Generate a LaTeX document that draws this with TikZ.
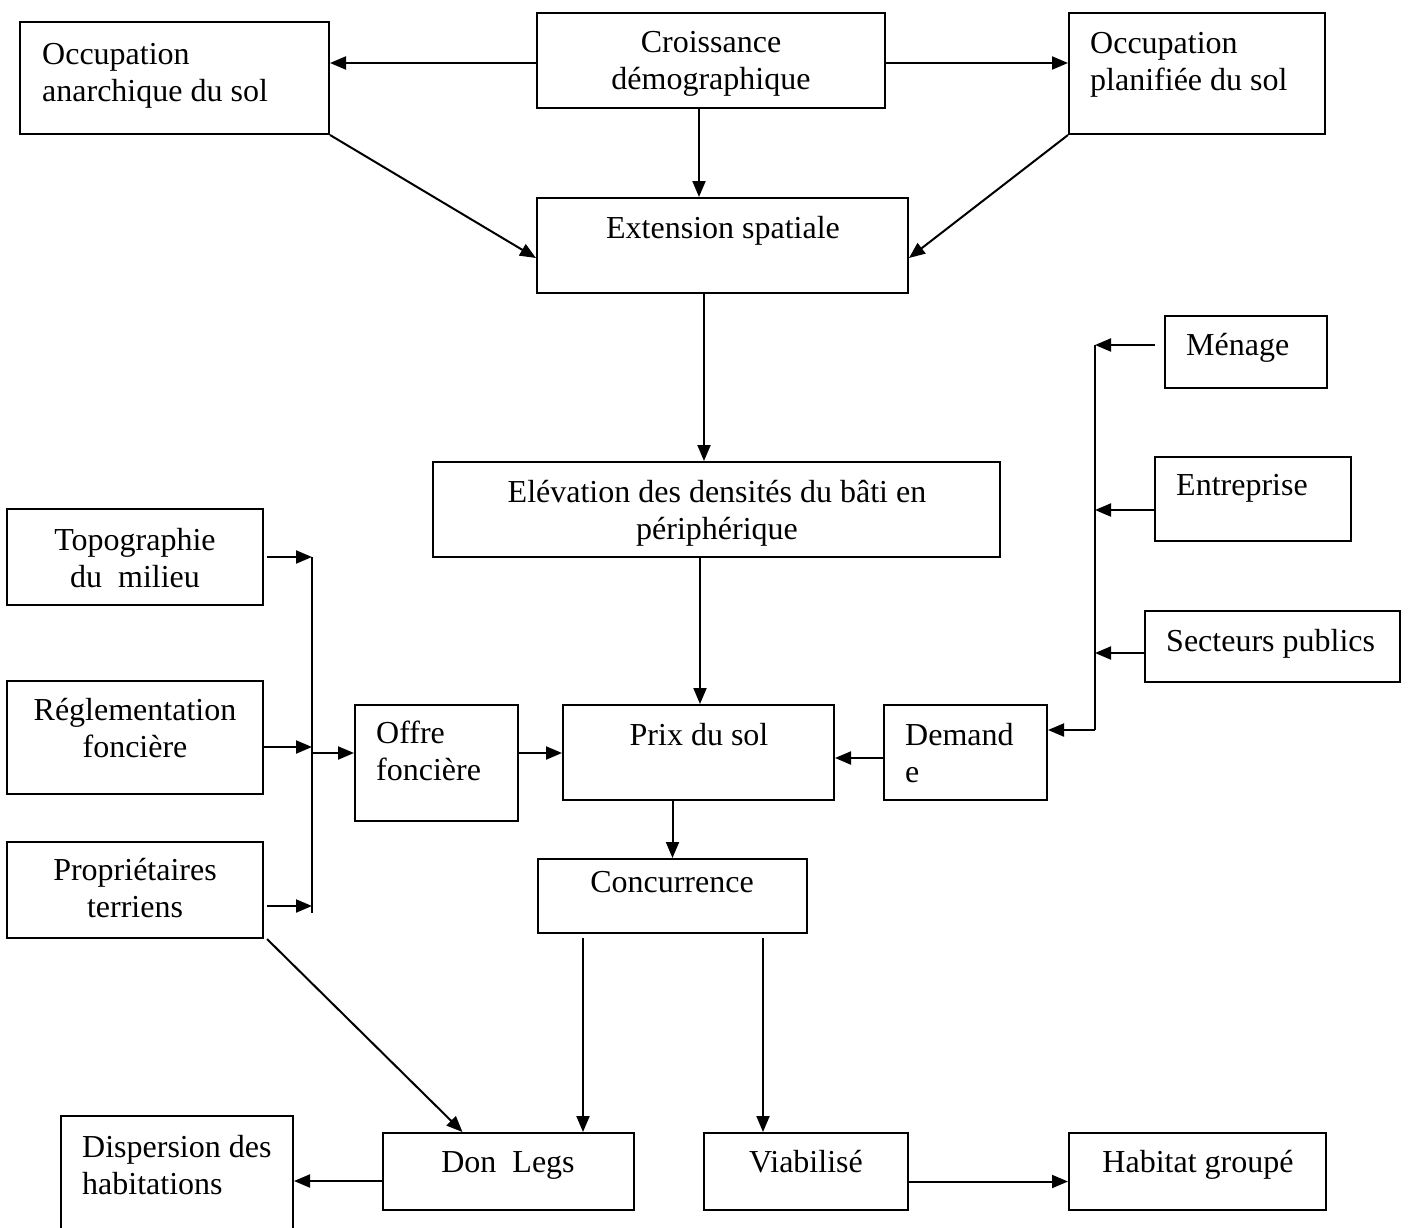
\documentclass[tikz,border=0pt]{standalone}
\usepackage{fontspec}
\setmainfont{Liberation Serif}
\usetikzlibrary{arrows.meta}
\begin{document}
\begin{tikzpicture}[x=1pt,y=-1pt,
  box/.style={draw,line width=2pt,inner sep=0pt},
  lbl/.style={inner sep=0pt,font=\fontsize{32}{37}\selectfont},
  lft/.style={lbl,align=left,anchor=north west},
  ctr/.style={lbl,align=center,anchor=north},
  arr/.style={line width=2pt,-{Triangle[length=16pt,width=13pt]}},
  ln/.style={line width=2pt}]
\fill[white] (0,0) rectangle (1410,1228);
\clip (0,0) rectangle (1410,1228);

% boxes
\node[box,minimum width=309pt,minimum height=112pt] (anar) at (174.5,78) {};
\node[box,minimum width=348pt,minimum height=95pt] (crois) at (711,60.5) {};
\node[box,minimum width=256pt,minimum height=121pt] (plan) at (1197,73.5) {};
\node[box,minimum width=371pt,minimum height=95pt] (ext) at (722.5,245.5) {};
\node[box,minimum width=162pt,minimum height=72pt] (menage) at (1246,352) {};
\node[box,minimum width=196pt,minimum height=84pt] (entr) at (1253,499) {};
\node[box,minimum width=567pt,minimum height=95pt] (elev) at (716.5,509.5) {};
\node[box,minimum width=256pt,minimum height=96pt] (topo) at (135,557) {};
\node[box,minimum width=255pt,minimum height=71pt] (sect) at (1272.5,646.5) {};
\node[box,minimum width=256pt,minimum height=113pt] (regl) at (135,737.5) {};
\node[box,minimum width=163pt,minimum height=116pt] (offre) at (436.5,763) {};
\node[box,minimum width=271pt,minimum height=95pt] (prix) at (698.5,752.5) {};
\node[box,minimum width=163pt,minimum height=95pt] (dem) at (965.5,752.5) {};
\node[box,minimum width=256pt,minimum height=96pt] (prop) at (135,890) {};
\node[box,minimum width=269pt,minimum height=74pt] (conc) at (672.5,896) {};
\node[box,minimum width=232pt,minimum height=134pt] (disp) at (177,1183) {};
\node[box,minimum width=251pt,minimum height=77pt] (don) at (508.5,1171.5) {};
\node[box,minimum width=204pt,minimum height=77pt] (viab) at (806,1171.5) {};
\node[box,minimum width=257pt,minimum height=77pt] (hab) at (1197.5,1171.5) {};

% texts
\node[lft] (anarT) at (42,38.1) {\strut Occupation\\anarchique du sol};
\node[ctr] (croisT) at (711,26.1) {\strut Croissance\\démographique};
\node[lft] (planT) at (1090,27.1) {\strut Occupation\\planifiée du sol};
\node[ctr] (extT) at (723,212.1) {\strut Extension spatiale};
\node[lft] (menageT) at (1186,329.1) {\strut Ménage};
\node[lft] (entrT) at (1176,469.1) {\strut Entreprise};
\node[ctr] (elevT) at (717,476.1) {\strut Elévation des densités du bâti en\\périphérique};
\node[ctr] (topoT) at (135,524.1) {\strut Topographie\\du~~milieu};
\node[lft] (sectT) at (1166,625.1) {\strut Secteurs publics};
\node[ctr] (reglT) at (135,694.1) {\strut Réglementation\\foncière};
\node[lft] (offreT) at (376,717.1) {\strut Offre\\foncière};
\node[ctr] (prixT) at (699,719.1) {\strut Prix du sol};
\node[lft] (demT) at (905,719.1) {\strut Demand\\e};
\node[ctr] (propT) at (135,854.1) {\strut Propriétaires\\terriens};
\node[ctr] (concT) at (672,866.1) {\strut Concurrence};
\node[lft] (dispT) at (82,1131.1) {\strut Dispersion des\\habitations};
\node[ctr] (donT) at (508,1146.1) {\strut Don~~Legs};
\node[ctr] (viabT) at (806,1146.1) {\strut Viabilisé};
\node[ctr] (habT) at (1198,1146.1) {\strut Habitat groupé};

% top connectors
\draw[arr] ([yshift=-2.5pt]crois.west) -- ([yshift=-2.5pt]crois.west -| anar.east);
\draw[arr] ([yshift=-2.5pt]crois.east) -- ([yshift=-2.5pt]crois.east -| plan.west);
\draw[arr] ([xshift=-12pt]crois.south) -- ([xshift=-12pt]crois.south |- ext.north);
\draw[arr] (anar.south east) -- ([yshift=-12.5pt]ext.west);
\draw[arr] (plan.south west) -- ([yshift=-12.5pt]ext.east);
\draw[arr] ([xshift=-18.5pt]ext.south) -- ([xshift=-18.5pt]ext.south |- elev.north);
\draw[arr] ([xshift=1.5pt]elev.south -| prix.north) -- ([xshift=1.5pt]prix.north);
\draw[arr] (prix.south -| conc.north) -- (conc.north);
\draw[arr] ([yshift=-0.5pt]offre.east |- prix.west) -- ([yshift=-0.5pt]prix.west);
\draw[arr] ([yshift=-5.5pt]dem.west) -- ([yshift=-5.5pt]dem.west -| prix.east);

% right bus
\coordinate (rM) at (1095,345);
\coordinate (rE) at (1095,510);
\coordinate (rS) at (1095,653);
\coordinate (rD) at (1095,730);
\draw[ln] (rM) -- (rD);
\draw[arr] ([xshift=-9pt]menage.west |- rM) -- (rM);
\draw[arr] (entr.west |- rE) -- (rE);
\draw[arr] (sect.west |- rS) -- (rS);
\draw[arr] (rD) -- (rD -| dem.east);

% left bus
\coordinate (lT) at (312,557);
\coordinate (lR) at (312,747);
\coordinate (lO) at (312,753);
\coordinate (lP) at (312,906);
\coordinate (lB) at (312,913);
\draw[ln] (lT) -- (lB);
\draw[arr] ([xshift=3pt]topo.east |- lT) -- (lT);
\draw[arr] (regl.east |- lR) -- (lR);
\draw[arr] ([xshift=3pt]prop.east |- lP) -- (lP);
\draw[arr] (lO) -- (lO -| offre.west);

% bottom connectors
\draw[arr] ([xshift=3pt]prop.south east) -- ([xshift=-46pt]don.north);
\draw[arr] ([shift={(-89.5pt,-4pt)}]conc.south) -- ([xshift=-89.5pt]conc.south |- don.north);
\draw[arr] ([shift={(90.5pt,-4pt)}]conc.south) -- ([xshift=90.5pt]conc.south |- viab.north);
\draw[arr] ([yshift=-9.5pt]don.west) -- ([yshift=-9.5pt]don.west -| disp.east);
\draw[arr] ([yshift=-10pt]viab.east) -- ([yshift=-10pt]viab.east -| hab.west);
\end{tikzpicture}
\end{document}
